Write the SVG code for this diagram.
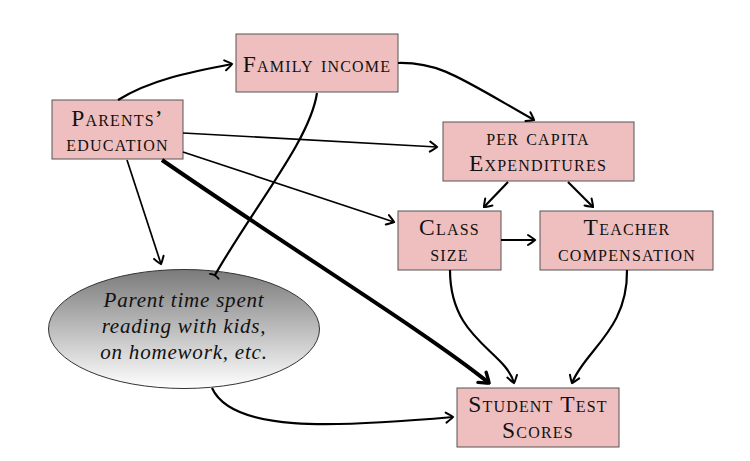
<svg xmlns="http://www.w3.org/2000/svg" width="750" height="461" viewBox="0 0 750 461">
<defs>
<linearGradient id="shade" x1="0" y1="0" x2="0" y2="1">
<stop offset="0" stop-color="#7a7a7a"/>
<stop offset="1" stop-color="#ffffff"/>
</linearGradient>
<marker id="arr" viewBox="-9 -7 11 14" markerWidth="11" markerHeight="14" refX="0" refY="0" orient="auto" markerUnits="userSpaceOnUse">
<path d="M-7,-5 Q-1.2,-1.3 0,0 Q-1.2,1.3 -7,5" fill="none" stroke="#000" stroke-width="2" stroke-linecap="round"/>
</marker>
<marker id="arrBig" viewBox="-11 -9 13 18" markerWidth="13" markerHeight="18" refX="0" refY="0" orient="auto" markerUnits="userSpaceOnUse">
<path d="M-9,-6.5 Q-1.5,-1.5 0,0 Q-1.5,1.5 -9,6.5" fill="none" stroke="#000" stroke-width="3.4" stroke-linecap="round"/>
</marker>
<marker id="bar" viewBox="-4 -7 8 14" markerWidth="8" markerHeight="14" refX="0" refY="0" orient="auto" markerUnits="userSpaceOnUse">
<path d="M1.5,-5 Q-1,0 1.5,5" fill="none" stroke="#000" stroke-width="1.8" stroke-linecap="round"/>
</marker>
</defs>
<style>
.box{fill:#efbfbf;stroke:#555;stroke-width:1}
.sc{font-family:"Liberation Serif","Times New Roman",serif;font-variant:small-caps;font-size:23.5px;letter-spacing:1.2px;fill:#111;text-anchor:middle}
.it{font-family:"Liberation Serif","Times New Roman",serif;font-style:italic;font-size:21px;letter-spacing:0.8px;fill:#111;text-anchor:middle}
.c{fill:none;stroke:#000;stroke-width:2.2}
.s{fill:none;stroke:#000;stroke-width:1.7}
</style>
<rect width="750" height="461" fill="#fff"/>
<g id="family-income">
<rect class="box" x="236" y="34" width="162" height="58"/>
<text class="sc" x="317" y="72">Family income</text>
</g>
<g id="parents-education">
<rect class="box" x="52" y="100" width="131" height="59"/>
<text class="sc" x="117.5" y="126">Parents’</text>
<text class="sc" x="117.5" y="151">education</text>
</g>
<g id="per-capita-expenditures">
<rect class="box" x="443" y="122" width="191" height="59"/>
<text class="sc" x="538" y="145">per capita</text>
<text class="sc" x="538" y="171">Expenditures</text>
</g>
<g id="class-size">
<rect class="box" x="398" y="211" width="103" height="59"/>
<text class="sc" x="449.5" y="235">Class</text>
<text class="sc" x="449.5" y="261">size</text>
</g>
<g id="teacher-compensation">
<rect class="box" x="540" y="211" width="173" height="59"/>
<text class="sc" x="627" y="235">Teacher</text>
<text class="sc" x="627" y="261">compensation</text>
</g>
<g id="student-test-scores">
<rect class="box" x="457" y="388" width="162" height="59"/>
<text class="sc" x="538" y="412">Student Test</text>
<text class="sc" x="538" y="438">Scores</text>
</g>
<g id="parent-time">
<ellipse cx="184" cy="329" rx="135.5" ry="59.5" fill="url(#shade)" stroke="#333" stroke-width="1"/>
<text class="it" x="184" y="307">Parent time spent</text>
<text class="it" x="184" y="333">reading with kids,</text>
<text class="it" x="184" y="359">on homework, etc.</text>
</g>
<g id="connectors">
<path class="c" d="M118,100 C150,80 190,72 232,64" marker-end="url(#arr)"/>
<path class="c" d="M398,63 C440,62 460,78 534,120" marker-end="url(#arr)"/>
<path class="s" d="M183,133 L437,147" marker-end="url(#arr)"/>
<path class="s" d="M183,152 L394,222" marker-end="url(#arr)"/>
<path class="s" d="M127,160 L161,264" marker-end="url(#arr)"/>
<path class="c" d="M317,93 C310,140 255,205 215,275" marker-end="url(#bar)"/>
<path fill="none" stroke="#000" stroke-width="4" d="M162,160 C300,255 430,335 489,383" marker-end="url(#arrBig)"/>
<path class="c" d="M450,270 C450,340 505,350 514,383" marker-end="url(#arr)"/>
<path class="c" d="M627,270 C628,330 585,350 572,383" marker-end="url(#arr)"/>
<path class="c" d="M212,388 C232,432 330,428 453,417" marker-end="url(#arr)"/>
<path class="c" d="M508,182 L484,207" marker-end="url(#arr)"/>
<path class="c" d="M568,182 L593,207" marker-end="url(#arr)"/>
<path class="c" d="M501,240 L535,240" marker-end="url(#arr)"/>
</g>
</svg>
